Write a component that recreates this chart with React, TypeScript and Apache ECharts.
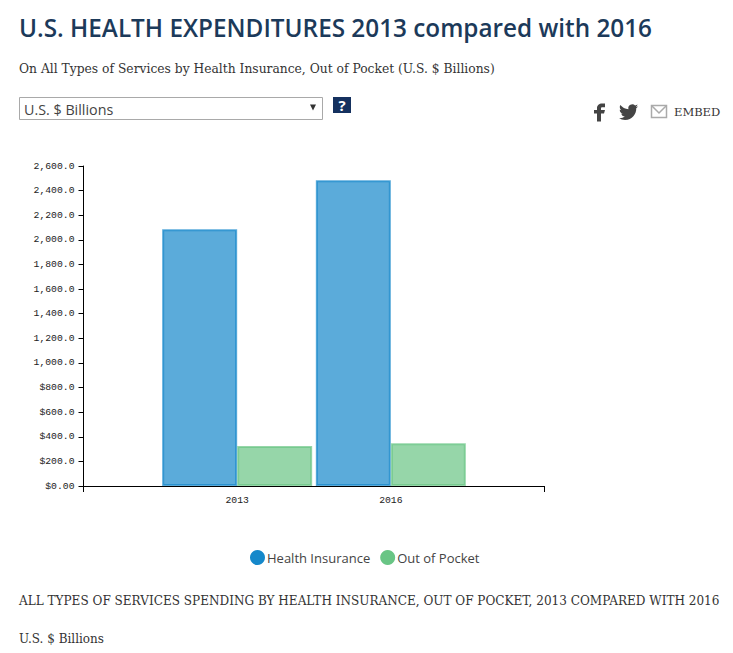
import React, { useEffect, useRef } from "react";
import * as echarts from "echarts";

const categories = ["", "2013", "2016", ""];
const healthInsurance = [null, 2087, 2484, null];
const outOfPocket = [null, 325, 347, null];
const yTickLabels = ["$0.00", "$200.0", "$400.0", "$600.0", "$800.0", "1,000.0", "1,200.0", "1,400.0", "1,600.0", "1,800.0", "2,000.0", "2,200.0", "2,400.0", "2,600.0"];

const SLAB = '"DejaVu Serif"';
const SANS = '"Open Sans"';
const MONO = '"Liberation Mono"';

echarts.graphic.registerShape("fbIcon", echarts.graphic.extendPath("M14 8h3V4h-3c-2.8 0-5 2.2-5 5v2H6v4h3v9h4v-9h3l1-4h-4V9c0-.6.4-1 1-1z", {}) as any);
echarts.graphic.registerShape("twIcon", echarts.graphic.extendPath("M23.953 4.57a10 10 0 0 1-2.825.775 4.958 4.958 0 0 0 2.163-2.723c-.951.555-2.005.959-3.127 1.184a4.92 4.92 0 0 0-8.384 4.482C7.69 8.095 4.067 6.13 1.64 3.162a4.822 4.822 0 0 0-.666 2.475c0 1.71.87 3.213 2.188 4.096a4.904 4.904 0 0 1-2.228-.616v.06a4.923 4.923 0 0 0 3.946 4.827 4.996 4.996 0 0 1-2.212.085 4.936 4.936 0 0 0 4.604 3.417 9.867 9.867 0 0 1-6.102 2.105c-.39 0-.779-.023-1.17-.067a13.995 13.995 0 0 0 7.557 2.209c9.053 0 13.998-7.496 13.998-13.985 0-.21 0-.42-.015-.63A9.935 9.935 0 0 0 24 4.59z", {}) as any);

export default function App() {
  const ref = useRef<HTMLDivElement>(null);
  useEffect(() => {
    document.body.style.margin = "0";
    const chart = echarts.init(ref.current!, undefined, { renderer: "svg" });
    const txt = (text: string, x: number, y: number, font: string, size: number, fill: string, extra: any = {}) => ({
      type: "text",
      x,
      y,
      style: { text, fontFamily: font, fontSize: size, fill, textVerticalAlign: "middle", ...extra },
    });
    chart.setOption({
      animation: false,
      backgroundColor: "#fff",
      grid: { left: 83.5, right: 188.5, top: 166, bottom: 167, containLabel: false },
      legend: {
        left: 245,
        top: 545,
        icon: "circle",
        itemWidth: 15,
        itemHeight: 15,
        itemGap: 10,
        selectedMode: false,
        textStyle: { fontFamily: SANS, fontSize: 13, color: "#444", padding: [2, 0, 0, -3] },
        data: [
          { name: "Health Insurance", itemStyle: { color: "#1588CA", borderWidth: 0 } },
          { name: "Out of Pocket", itemStyle: { color: "#69C585", borderWidth: 0 } },
        ],
      },
      xAxis: {
        type: "category",
        data: categories,
        boundaryGap: false,
        axisLine: { lineStyle: { color: "#000", width: 1 } },
        axisTick: { length: 6, lineStyle: { color: "#000" }, interval: (i: number) => i === 0 || i === 3 },
        axisLabel: { fontFamily: MONO, fontSize: 9.75, color: "#222", margin: 9, interval: 0 },
        splitLine: { show: false },
      },
      yAxis: {
        type: "value",
        min: 0,
        max: 2600,
        interval: 200,
        axisLine: { show: true, lineStyle: { color: "#000", width: 1 } },
        axisTick: { show: true, length: 5, lineStyle: { color: "#000" } },
        axisLabel: {
          fontFamily: MONO,
          fontSize: 9.75,
          color: "#222",
          margin: 9,
          padding: [4, 0, 0, 0],
          formatter: (v: number) => yTickLabels[Math.round(v / 200)],
        },
        splitLine: { show: false },
      },
      series: [
        {
          name: "Health Insurance",
          type: "bar",
          data: healthInsurance,
          barWidth: 75,
          barGap: 0,
          itemStyle: { color: "rgba(21,136,202,0.7)", borderColor: "rgba(21,136,202,0.7)", borderWidth: 2 },
        },
        {
          name: "Out of Pocket",
          type: "bar",
          data: outOfPocket,
          barWidth: 75,
          barGap: 0,
          itemStyle: { color: "rgba(105,197,133,0.7)", borderColor: "rgba(105,197,133,0.7)", borderWidth: 2 },
        },
      ],
      graphic: [
        txt("U.S. HEALTH EXPENDITURES 2013 compared with 2016", 19, 27, SANS, 24.3, "#1c3a5a", { fontWeight: 600 }),
        txt("On All Types of Services by Health Insurance, Out of Pocket (U.S. $ Billions)", 19, 69, SLAB, 12.3, "#333"),
        { type: "rect", shape: { x: 19.5, y: 97.5, width: 303, height: 22 }, style: { fill: "#fff", stroke: "#a9a9a9", lineWidth: 1 } },
        txt("U.S. $ Billions", 24, 109, SANS, 14.3, "#444"),
        { type: "polygon", shape: { points: [[310, 104.5], [316, 104.5], [313, 110.5]] }, style: { fill: "#333" } },
        { type: "rect", shape: { x: 333, y: 97, width: 18, height: 16 }, style: { fill: "#15315f" } },
        txt("?", 342, 105, SANS, 15, "#fff", { fontWeight: 700, textAlign: "center" }),
        { type: "fbIcon", x: 588, y: 100, scaleX: 1, scaleY: 0.9, style: { fill: "#444" } },
        { type: "twIcon", x: 619, y: 102.5, scaleX: 0.8, scaleY: 0.8, style: { fill: "#444" } },
        { type: "rect", shape: { x: 651.5, y: 105.5, width: 15, height: 12 }, style: { fill: "#fff", stroke: "#aaa", lineWidth: 1.5 } },
        { type: "polyline", shape: { points: [[652, 106], [659, 113], [666, 106]] }, style: { fill: "none", stroke: "#aaa", lineWidth: 1.5 } },
        txt("EMBED", 674, 112, SLAB, 11.5, "#333"),
        txt("ALL TYPES OF SERVICES SPENDING BY HEALTH INSURANCE, OUT OF POCKET, 2013 COMPARED WITH 2016", 19, 601, SLAB, 12.05, "#333"),
        txt("U.S. $ Billions", 19, 639, SLAB, 12, "#333"),
      ],
    });
    return () => chart.dispose();
  }, []);
  return <div ref={ref} style={{ width: 733, height: 653 }} />;
}
